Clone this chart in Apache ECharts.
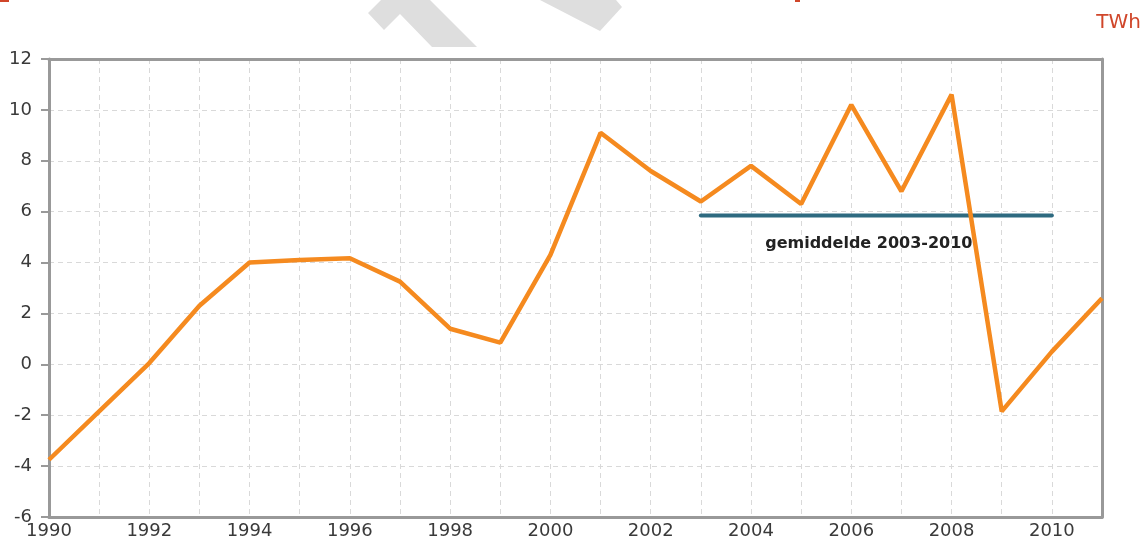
<!DOCTYPE html>
<html>
<head>
<meta charset="utf-8">
<script src="https://cdn.jsdelivr.net/npm/echarts@6/dist/echarts.min.js"></script>
<style>
  html, body { margin: 0; padding: 0; background: #fff; }
  #chart { width: 1144px; height: 542px; }
</style>
</head>
<body>
<div id="chart"></div>
<script>
// jaarlijkse waarden (TWh)
const years = [1990, 1991, 1992, 1993, 1994, 1995, 1996, 1997, 1998, 1999, 2000,
               2001, 2002, 2003, 2004, 2005, 2006, 2007, 2008, 2009, 2010, 2011]
const values = [-3.75, -1.85, 0.05, 2.3, 4.0, 4.1, 4.17, 3.25, 1.4, 0.85, 4.3,
                9.1, 7.6, 6.4, 7.8, 6.3, 10.2, 6.8, 10.6, -1.85, 0.5, 2.6]
// gemiddelde 2003-2010
const avgYears = [2003, 2010]
const avgValue = 5.85
const avgLabel = 'gemiddelde 2003-2010'
const unitLabel = 'TWh'

const chart = echarts.init(document.getElementById('chart'))

const frameColor = '#999'
const gridDash = { color: '#d9d9d9', type: [5, 4] }

const option = {
  animation: false,
  grid: { left: 49, right: 42, top: 59, bottom: 25 },
  xAxis: [
    {
      type: 'value',
      min: 1990, max: 2011, interval: 1,
      axisLine: { onZero: false, lineStyle: { color: frameColor, width: 3 } },
      axisTick: { show: false },
      axisLabel: {
        color: '#3a3a3a', fontSize: 18, fontFamily: 'DejaVu Sans', margin: 5,
        formatter: v => (v % 2 === 0 && v < 2011) ? String(v) : ''
      },
      splitLine: { show: true, lineStyle: gridDash }
    },
    {
      // bovenrand
      type: 'value', position: 'top',
      min: 1990, max: 2011,
      axisLine: { show: true, onZero: false, lineStyle: { color: frameColor, width: 3 } },
      axisTick: { show: false }, axisLabel: { show: false }, splitLine: { show: false }
    }
  ],
  yAxis: [
    {
      type: 'value',
      min: -6, max: 12, interval: 2,
      axisLine: { show: true, onZero: false, lineStyle: { color: frameColor, width: 3 } },
      axisTick: { show: true, length: 8, lineStyle: { color: frameColor, width: 2 } },
      axisLabel: { color: '#3a3a3a', fontSize: 18, fontFamily: 'DejaVu Sans', margin: 17 },
      splitLine: { show: true, lineStyle: gridDash }
    },
    {
      // rechterrand
      type: 'value', position: 'right',
      min: -6, max: 12,
      axisLine: { show: true, onZero: false, lineStyle: { color: frameColor, width: 3 } },
      axisTick: { show: false }, axisLabel: { show: false }, splitLine: { show: false }
    }
  ],
  series: [
    {
      type: 'line',
      data: years.map((y, i) => [y, values[i]]),
      symbol: 'none',
      lineStyle: { color: '#f58a1f', width: 4.5 },
      z: 3
    },
    {
      type: 'line',
      data: avgYears.map(y => [y, avgValue]),
      symbol: 'none',
      lineStyle: { color: '#2e6a80', width: 4, cap: 'round' },
      z: 2
    }
  ]
}
chart.setOption(option)

// tekst en watermerk
const lblPos = chart.convertToPixel({ xAxisIndex: 0, yAxisIndex: 0 }, [2006.35, 4.72])
chart.setOption({
  graphic: [
    {
      type: 'polygon', z: -1, silent: true,
      shape: { points: [[381, 0], [368, 13], [384, 30], [400, 14], [432, 47], [477, 47], [430, 0]] },
      style: { fill: '#dedede' }
    },
    {
      type: 'polygon', z: -1, silent: true,
      shape: { points: [[540, 0], [600, 31], [622, 7], [616, 0]] },
      style: { fill: '#dedede' }
    },
    { type: 'rect', shape: { x: 0, y: 0, width: 9, height: 2 }, style: { fill: '#d0462a' } },
    { type: 'rect', shape: { x: 795, y: 0, width: 5, height: 2 }, style: { fill: '#d0462a' } },
    {
      type: 'text', x: 1141, y: 13, z: 10,
      style: { text: unitLabel, fill: '#d0462a', fontSize: 20, fontFamily: 'DejaVu Sans', align: 'right' }
    },
    {
      type: 'text', x: lblPos[0], y: lblPos[1], z: 10,
      style: {
        text: avgLabel, fill: '#222', fontSize: 16, fontWeight: 'bold',
        fontFamily: 'DejaVu Sans', align: 'center', verticalAlign: 'middle'
      }
    }
  ]
})
</script>
</body>
</html>
